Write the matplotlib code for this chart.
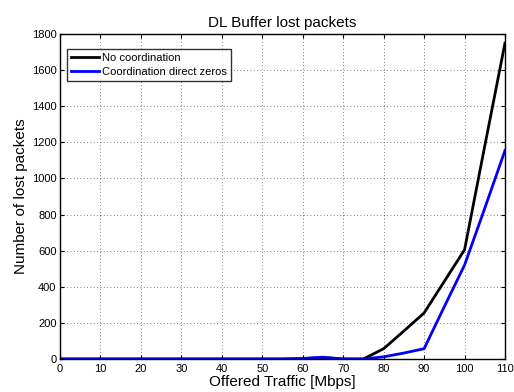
import matplotlib
matplotlib.use("Agg")
import matplotlib.pyplot as plt

plt.rcParams['font.family'] = ['Liberation Sans', 'DejaVu Sans']

traffic = [0, 5, 10, 15, 20, 25, 30, 35, 40, 45, 50, 55, 60, 65, 70, 75, 80, 85, 90, 95, 100, 105, 110]
no_coord = [0, 0, 0, 0, 0, 0, 0, 0, 0, 0, 0, 0, 2, 8, 0, 0, 57, 155, 255, 430, 605, 1180, 1750]
coord_zeros = [0, 0, 0, 0, 0, 0, 0, 0, 0, 0, 0, 0, 3, 10, 0, 0, 12, 33, 57, 290, 520, 835, 1155]
xticks = [0, 10, 20, 30, 40, 50, 60, 70, 80, 90, 100, 110]
yticks = [0, 200, 400, 600, 800, 1000, 1200, 1400, 1600, 1800]

fig = plt.figure(figsize=(5.14, 3.92), dpi=100)
ax = fig.add_axes([60/514, 1-359/392, 445/514, 325/392])

ax.plot(traffic, no_coord, color='black', lw=2, label='No coordination')
ax.plot(traffic, coord_zeros, color='blue', lw=2, label='Coordination direct zeros')

ax.set_xlim(0, 110)
ax.set_ylim(0, 1800)
ax.set_xticks(xticks)
ax.set_yticks(yticks)
ax.tick_params(direction='in', top=True, right=True, labelsize=8, length=3, pad=2.5)
ax.tick_params(axis='x', pad=3.5)
ax.grid(True, linestyle=(0, (1, 3)), color='#555555', lw=0.6)
for s in ax.spines.values():
    s.set_linewidth(1.0)

ax.set_title('DL Buffer lost packets', fontsize=11, pad=5)
ax.set_xlabel('Offered Traffic [Mbps]', fontsize=11, labelpad=1)
ax.set_ylabel('Number of lost packets', fontsize=11, labelpad=3)

leg = ax.legend(loc='upper left', bbox_to_anchor=(7/445, 1 - 15/325), fontsize=8,
                frameon=True, fancybox=False, edgecolor='black', handlelength=2.5,
                borderpad=0.35, labelspacing=0.4, handletextpad=0.3, borderaxespad=0)
leg.get_frame().set_linewidth(1.0)

fig.savefig('out.png', dpi=100)
